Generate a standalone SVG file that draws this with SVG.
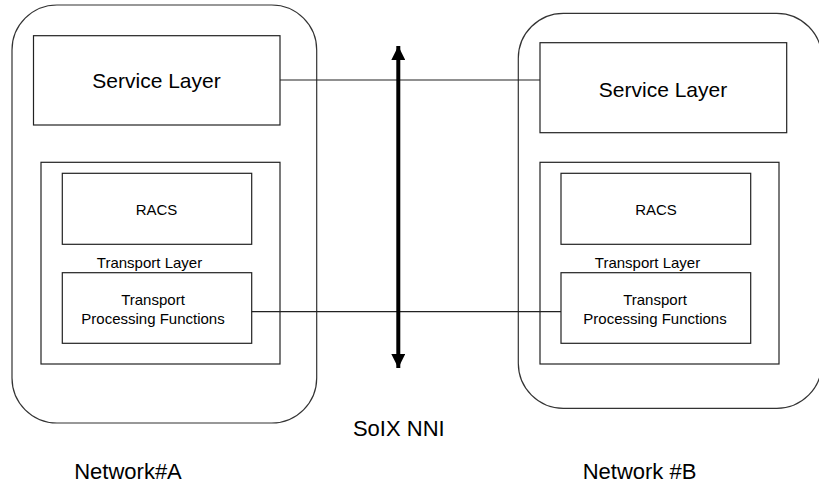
<svg xmlns="http://www.w3.org/2000/svg" width="819" height="488" viewBox="0 0 819 488">
<style>
text{font-family:"Liberation Sans",Arial,sans-serif;fill:#000;text-anchor:middle}
.outer{fill:none;stroke:#333;stroke-width:1.2}
.box{fill:#fff;stroke:#222;stroke-width:1.2}
.big{font-size:21px}
.lbl{font-size:22px}
.sm{font-size:15px}
.conn{stroke:#222;stroke-width:1.2;fill:none}
</style>
<defs>
<marker id="ah" markerUnits="userSpaceOnUse" markerWidth="14" markerHeight="14" refX="12" refY="6" orient="auto-start-reverse" viewBox="0 0 12 12">
<path d="M0,0 L12,6 L0,12 Z" fill="#000"/>
</marker>
</defs>
<rect width="819" height="488" fill="#fff"/>
<g id="networkA">
<rect class="outer" x="12" y="5" width="304.7" height="418" rx="45" ry="45"/>
<g id="serviceA"><rect class="box" x="33.5" y="35.7" width="246.5" height="89.3"/><text class="big" x="156.5" y="87.7">Service Layer</text></g>
<g id="transportA"><rect class="box" x="41" y="162.3" width="239" height="201.7"/><text class="sm" x="149.5" y="267.5">Transport Layer</text></g>
<g id="racsA"><rect class="box" x="62.3" y="173.3" width="189.4" height="71"/><text class="sm" x="156.5" y="215">RACS</text></g>
<g id="tpfA"><rect class="box" x="62.3" y="272.7" width="189.4" height="70.6"/><text class="sm" x="153" y="305">Transport</text><text class="sm" x="153" y="324">Processing Functions</text></g>
<text class="lbl" x="128" y="479">Network#A</text>
</g>
<g id="networkB">
<rect class="outer" x="518.3" y="13.3" width="303.5" height="395" rx="45" ry="45"/>
<g id="serviceB"><rect class="box" x="540" y="42.7" width="246.7" height="90"/><text class="big" x="663" y="96.5">Service Layer</text></g>
<g id="transportB"><rect class="box" x="540" y="162.3" width="239" height="201.7"/><text class="sm" x="647.5" y="267.5">Transport Layer</text></g>
<g id="racsB"><rect class="box" x="561" y="173.3" width="189.7" height="71"/><text class="sm" x="656" y="215">RACS</text></g>
<g id="tpfB"><rect class="box" x="561" y="272.7" width="189.7" height="70.6"/><text class="sm" x="655" y="305">Transport</text><text class="sm" x="655" y="324">Processing Functions</text></g>
<text class="lbl" x="639.5" y="479">Network #B</text>
</g>
<g id="connectors">
<line class="conn" x1="280" y1="80" x2="540" y2="80"/>
<line class="conn" x1="251.7" y1="311.7" x2="561" y2="311.7" stroke="#444"/>
<line x1="398.3" y1="46" x2="398.3" y2="368" stroke="#000" stroke-width="4" marker-start="url(#ah)" marker-end="url(#ah)"/>
</g>
<text class="lbl" x="398.8" y="436">SoIX NNI</text>
</svg>
